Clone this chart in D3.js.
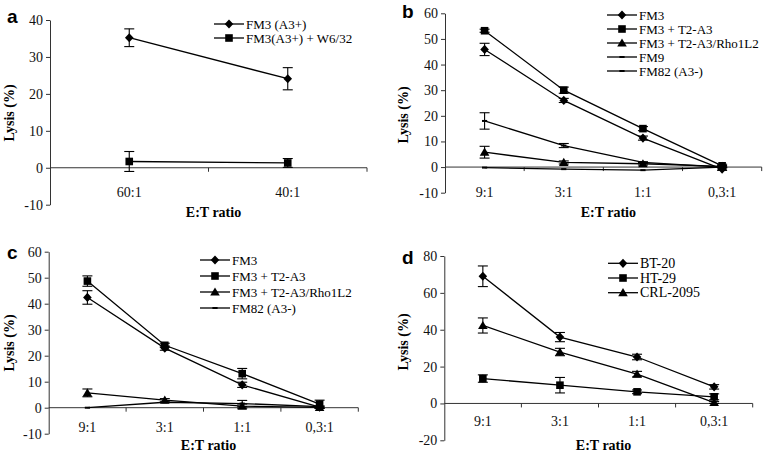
<!DOCTYPE html>
<html>
<head>
<meta charset="utf-8">
<script src="https://cdn.jsdelivr.net/npm/d3@7"></script>
<style>
  body { margin: 0; background: #fff; }
  svg { display: block; }
</style>
</head>
<body>
<div id="chart"></div>
<script>
var width = 769;
var height = 453;
var serif = "'Liberation Serif', 'Times New Roman', 'DejaVu Serif', serif";

// categories
var catsA = ["60:1", "40:1"];
var catsBCD = ["9:1", "3:1", "1:1", "0,3:1"];

// panel a
var seriesA = ["FM3 (A3+)", "FM3(A3+) + W6/32"];
var valuesA = [[35.2, 24.1], [1.7, 1.3]];
var errorsA = [[2.4, 3.0], [2.7, 1.2]];
var markersA = ["diamond", "square"];

// panel b
var seriesB = ["FM3", "FM3 + T2-A3", "FM3 + T2-A3/Rho1L2", "FM9", "FM82 (A3-)"];
var valuesB = [
  [45.9, 26.0, 11.3, -0.8],
  [53.2, 30.0, 15.0, 0.5],
  [5.8, 1.8, 1.3, 0.3],
  [18.0, 8.4, 1.8, 0.0],
  [-0.2, -0.8, -1.2, 0.0]
];
var errorsB = [
  [2.4, 0.8, 0.8, 0.5],
  [0.6, 1.2, 0.8, 0.6],
  [2.3, 0.6, 0.5, 0.3],
  [3.2, 0.8, 0.3, 0.3],
  [0, 0, 0, 0]
];
var markersB = ["diamond", "square", "triangle", "dash", "dash"];

// panel c
var seriesC = ["FM3", "FM3 + T2-A3", "FM3 + T2-A3/Rho1L2", "FM82 (A3-)"];
var valuesC = [
  [42.4, 22.9, 8.8, 0.2],
  [48.7, 24.0, 13.1, 1.4],
  [5.7, 2.9, 0.6, 0.1],
  [0.0, 2.1, 1.6, 0.4]
];
var errorsC = [
  [2.6, 0.8, 1.0, 0.5],
  [2.0, 0.8, 2.0, 1.5],
  [1.5, 0.6, 0.8, 0.3],
  [0, 0, 1.2, 0]
];
var markersC = ["diamond", "square", "triangle", "dash"];

// panel d
var seriesD = ["BT-20", "HT-29", "CRL-2095"];
var valuesD = [
  [69.0, 36.0, 25.2, 9.0],
  [13.5, 9.9, 6.3, 3.6],
  [42.3, 27.9, 15.9, 0.5]
];
var errorsD = [
  [5.6, 2.5, 1.5, 1.2],
  [2.0, 4.2, 1.0, 1.6],
  [4.1, 2.0, 1.5, 0.5]
];
var markersD = ["diamond", "square", "triangle"];

// tick values
var ticksA = [-10, 0, 10, 20, 30, 40];
var ticksBC = [-10, 0, 10, 20, 30, 40, 50, 60];
var ticksD = [-20, 0, 20, 40, 60, 80];

var svg = d3.select("#chart").append("svg")
  .attr("width", width)
  .attr("height", height);

// marker paths
function markerPath(type) {
  if (type == "diamond") return "M0,-4.6L4.3,0L0,4.6L-4.3,0Z";
  if (type == "square") return "M-3.8,-3.8H3.8V3.8H-3.8Z";
  if (type == "triangle") return "M0,-4.6L4.8,3.6H-4.8Z";
  return "M-2.6,-1H2.6V1H-2.6Z";
}

function drawPanel(p) {
  var g = svg.append("g");

  var x = d3.scaleBand().domain(p.cats).range([p.x0, p.x1]);
  var y = d3.scaleLinear().domain(p.yDomain).range([p.yBot, p.yTop]);

  // y axis
  var yAxis = d3.axisLeft(y).tickValues(p.ticks).tickSize(4).tickSizeOuter(0)
    .tickFormat(function (d) { return String(d); });
  var ya = g.append("g").attr("transform", "translate(" + p.x0 + ",0)").call(yAxis);
  ya.attr("font-family", serif);
  ya.selectAll("path, line").attr("stroke", "#333");
  ya.selectAll("text").attr("font-family", serif).attr("font-size", "14px").attr("fill", "#111").attr("x", -7);

  // x axis along y = 0
  var y0 = y(0);
  g.append("line")
    .attr("x1", p.x0).attr("x2", p.x1)
    .attr("y1", y0).attr("y2", y0)
    .attr("stroke", "#333");
  for (var i = 1; i <= p.cats.length; i++) {
    var tx = p.x0 + i * x.step();
    g.append("line")
      .attr("x1", tx).attr("x2", tx)
      .attr("y1", y0).attr("y2", y0 + 4)
      .attr("stroke", "#333");
  }
  g.selectAll(".xlab").data(p.cats).enter().append("text")
    .attr("x", function (d) { return x(d) + x.bandwidth() / 2; })
    .attr("y", p.xLabY)
    .attr("text-anchor", "middle")
    .attr("font-family", serif)
    .attr("font-size", "14px")
    .attr("fill", "#111")
    .text(function (d) { return d; });

  // axis titles
  g.append("text")
    .attr("x", (p.x0 + p.x1) / 2 + 5)
    .attr("y", p.xTitleY)
    .attr("text-anchor", "middle")
    .attr("font-family", serif)
    .attr("font-size", "14px")
    .attr("font-weight", "bold")
    .text("E:T ratio");

  g.append("text")
    .attr("transform", "translate(" + p.yTitleX + "," + p.yTitleY + ") rotate(-90)")
    .attr("text-anchor", "middle")
    .attr("font-family", serif)
    .attr("font-size", "14px")
    .attr("font-weight", "bold")
    .text("Lysis (%)");

  // panel letter
  g.append("text")
    .attr("x", p.letterX)
    .attr("y", p.letterY)
    .attr("font-family", "'Liberation Sans', Arial, sans-serif")
    .attr("font-weight", "bold")
    .attr("font-size", "19px")
    .text(p.letter);

  var cx = function (j) { return x(p.cats[j]) + x.bandwidth() / 2; };
  var line = d3.line()
    .x(function (d, j) { return cx(j); })
    .y(function (d) { return y(d); });

  p.values.forEach(function (vals, s) {
    g.append("path")
      .attr("d", line(vals))
      .attr("fill", "none")
      .attr("stroke", "#000")
      .attr("stroke-width", 1.3);
  });

  // error bars
  p.values.forEach(function (vals, s) {
    vals.forEach(function (v, j) {
      var e = p.errors[s][j];
      if (!e) return;
      var px = cx(j);
      var eb = g.append("g").attr("stroke", "#000").attr("stroke-width", 1.1);
      eb.append("line").attr("x1", px).attr("x2", px).attr("y1", y(v - e)).attr("y2", y(v + e));
      eb.append("line").attr("x1", px - 5).attr("x2", px + 5).attr("y1", y(v - e)).attr("y2", y(v - e));
      eb.append("line").attr("x1", px - 5).attr("x2", px + 5).attr("y1", y(v + e)).attr("y2", y(v + e));
    });
  });

  // markers
  p.values.forEach(function (vals, s) {
    g.selectAll(".m" + s).data(vals).enter().append("path")
      .attr("transform", function (d, j) { return "translate(" + cx(j) + "," + y(d) + ")"; })
      .attr("d", markerPath(p.markers[s]))
      .attr("fill", "#000");
  });

  // legend
  p.series.forEach(function (name, s) {
    var ly = p.legY + s * p.legStep;
    g.append("line")
      .attr("x1", p.legX).attr("x2", p.legX + 30)
      .attr("y1", ly).attr("y2", ly)
      .attr("stroke", "#000").attr("stroke-width", 1.3);
    g.append("path")
      .attr("transform", "translate(" + (p.legX + 15) + "," + ly + ")")
      .attr("d", markerPath(p.markers[s]))
      .attr("fill", "#000");
    g.append("text")
      .attr("x", p.legX + 32)
      .attr("y", ly + 4.5)
      .attr("font-family", serif)
      .attr("font-size", p.legFont)
      .text(name);
  });
}

drawPanel({
  letter: "a", letterX: 7, letterY: 23,
  cats: catsA, series: seriesA, values: valuesA, errors: errorsA, markers: markersA,
  ticks: ticksA, yDomain: [-10, 40],
  x0: 50, x1: 367, yTop: 20, yBot: 204.7,
  xLabY: 197, xTitleY: 217, yTitleX: 14, yTitleY: 113,
  legX: 214, legY: 24, legStep: 14, legFont: "13px"
});

drawPanel({
  letter: "b", letterX: 402, letterY: 17.5,
  cats: catsBCD, series: seriesB, values: valuesB, errors: errorsB, markers: markersB,
  ticks: ticksBC, yDomain: [-10, 60],
  x0: 445, x1: 761.7, yTop: 13.3, yBot: 192.7,
  xLabY: 197, xTitleY: 217, yTitleX: 408, yTitleY: 115,
  legX: 607, legY: 15, legStep: 14, legFont: "13px"
});

drawPanel({
  letter: "c", letterX: 7, letterY: 258.5,
  cats: catsBCD, series: seriesC, values: valuesC, errors: errorsC, markers: markersC,
  ticks: ticksBC, yDomain: [-10, 60],
  x0: 48.7, x1: 358.3, yTop: 251.7, yBot: 433.7,
  xLabY: 432, xTitleY: 450, yTitleX: 14, yTitleY: 343,
  legX: 200, legY: 260, legStep: 16, legFont: "13px"
});

drawPanel({
  letter: "d", letterX: 402, letterY: 263.5,
  cats: catsBCD, series: seriesD, values: valuesD, errors: errorsD, markers: markersD,
  ticks: ticksD, yDomain: [-20, 80],
  x0: 444.3, x1: 752.7, yTop: 256, yBot: 440.3,
  xLabY: 426, xTitleY: 450, yTitleX: 408, yTitleY: 342,
  legX: 608, legY: 263.3, legStep: 14.7, legFont: "14px"
});
</script>
</body>
</html>
